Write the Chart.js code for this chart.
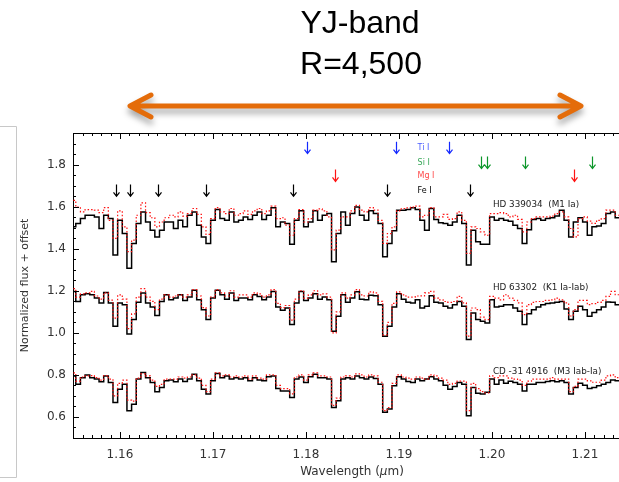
<!DOCTYPE html>
<html>
<head>
<meta charset="utf-8">
<script src="https://cdn.jsdelivr.net/npm/chart.js@4.4.0/dist/chart.umd.min.js"></script>
<style>
  html, body { margin: 0; padding: 0; background: #fff; }
</style>
</head>
<body>
<canvas id="spec" width="619" height="482"></canvas>
<script>
// wavelength grid of the spectra (micron)
const wave = [
  1.1550,1.1555,1.1560,1.1565,1.1570,1.1575,1.1580,1.1585,1.1590,1.1595,
  1.1600,1.1605,1.1610,1.1615,1.1620,1.1625,1.1630,1.1635,1.1640,1.1645,
  1.1650,1.1655,1.1660,1.1665,1.1670,1.1675,1.1680,1.1685,1.1690,1.1695,
  1.1700,1.1705,1.1710,1.1715,1.1720,1.1725,1.1730,1.1735,1.1740,1.1745,
  1.1750,1.1755,1.1760,1.1765,1.1770,1.1775,1.1780,1.1785,1.1790,1.1795,
  1.1800,1.1805,1.1810,1.1815,1.1820,1.1825,1.1830,1.1835,1.1840,1.1845,
  1.1850,1.1855,1.1860,1.1865,1.1870,1.1875,1.1880,1.1885,1.1890,1.1895,
  1.1900,1.1905,1.1910,1.1915,1.1920,1.1925,1.1930,1.1935,1.1940,1.1945,
  1.1950,1.1955,1.1960,1.1965,1.1970,1.1975,1.1980,1.1985,1.1990,1.1995,
  1.2000,1.2005,1.2010,1.2015,1.2020,1.2025,1.2030,1.2035,1.2040,1.2045,
  1.2050,1.2055,1.2060,1.2065,1.2070,1.2075,1.2080,1.2085,1.2090,1.2095,
  1.2100,1.2105,1.2110,1.2115,1.2120,1.2125,1.2130,1.2135,1.2140
];

// HD 339034 (M1 Ia), offset spectrum on top
const topBlack = [
  1.504,1.52,1.543,1.559,1.559,1.551,1.496,1.559,1.543,1.370,
  1.535,1.472,1.307,1.425,1.52,1.575,1.527,1.488,1.456,1.488,
  1.527,1.527,1.496,1.535,1.504,1.559,1.575,1.512,1.456,1.425,
  1.535,1.586,1.543,1.535,1.575,1.527,1.535,1.551,1.539,1.559,
  1.575,1.539,1.559,1.595,1.504,1.527,1.52,1.421,1.535,1.58,
  1.504,1.527,1.58,1.535,1.559,1.567,1.338,1.472,1.575,1.512,
  1.567,1.598,1.559,1.535,1.58,1.567,1.52,1.362,1.425,1.485,
  1.583,1.583,1.586,1.595,1.586,1.535,1.488,1.591,1.539,1.523,
  1.52,1.512,1.527,1.559,1.52,1.323,1.488,1.433,1.421,1.421,
  1.551,1.535,1.543,1.535,1.531,1.512,1.496,1.425,1.49,1.539,
  1.543,1.535,1.543,1.547,1.555,1.583,1.535,1.456,1.527,1.547,
  1.527,1.464,1.504,1.508,1.52,1.567,1.575,1.547,1.543
];
const topRed = [
  1.63,1.598,1.575,1.586,1.586,1.583,1.571,1.595,1.535,1.449,
  1.58,1.504,1.386,1.441,1.559,1.618,1.571,1.547,1.504,1.527,
  1.547,1.559,1.551,1.575,1.555,1.567,1.591,1.563,1.504,1.468,
  1.543,1.595,1.575,1.567,1.591,1.559,1.567,1.58,1.563,1.58,
  1.591,1.567,1.58,1.602,1.543,1.547,1.512,1.464,1.543,1.586,
  1.527,1.543,1.583,1.589,1.58,1.551,1.394,1.488,1.551,1.551,
  1.58,1.606,1.583,1.575,1.595,1.583,1.535,1.425,1.472,1.504,
  1.58,1.591,1.594,1.598,1.602,1.551,1.559,1.595,1.551,1.551,
  1.563,1.539,1.543,1.575,1.535,1.378,1.504,1.496,1.48,1.464,
  1.567,1.567,1.571,1.567,1.551,1.559,1.539,1.48,1.527,1.543,
  1.551,1.551,1.551,1.555,1.567,1.575,1.551,1.496,1.456,1.543,
  1.551,1.531,1.52,1.535,1.543,1.583,1.583,1.559,1.551
];

// HD 63302 (K1 Ia-Iab)
const midBlack = [
  1.197,1.149,1.181,1.186,1.181,1.165,1.142,1.192,1.142,1.031,
  1.142,1.134,0.995,1.063,1.145,1.189,1.142,1.123,1.082,1.149,
  1.181,1.157,1.165,1.181,1.154,1.17,1.202,1.157,1.11,1.063,
  1.165,1.202,1.181,1.16,1.189,1.154,1.165,1.165,1.157,1.181,
  1.173,1.157,1.17,1.197,1.123,1.107,1.118,1.039,1.142,1.197,
  1.154,1.165,1.186,1.16,1.17,1.157,1.008,1.079,1.181,1.145,
  1.165,1.195,1.16,1.157,1.179,1.176,1.134,0.984,1.031,1.123,
  1.186,1.16,1.145,1.142,1.157,1.118,1.126,1.176,1.145,1.142,
  1.126,1.118,1.134,1.149,1.126,0.968,1.094,1.063,1.055,1.047,
  1.157,1.123,1.126,1.134,1.134,1.118,1.102,1.039,1.091,1.11,
  1.123,1.134,1.139,1.142,1.145,1.149,1.113,1.063,1.102,1.126,
  1.11,1.079,1.097,1.11,1.123,1.146,1.145,1.134,1.129
];
const midRed = [
  1.21,1.17,1.185,1.19,1.197,1.175,1.16,1.19,1.155,1.07,
  1.18,1.16,1.02,1.09,1.17,1.21,1.17,1.15,1.11,1.16,
  1.18,1.17,1.175,1.18,1.17,1.18,1.205,1.175,1.12,1.08,
  1.17,1.205,1.19,1.175,1.2,1.17,1.18,1.18,1.17,1.19,
  1.185,1.17,1.18,1.205,1.14,1.12,1.13,1.06,1.16,1.2,
  1.165,1.18,1.2,1.18,1.185,1.17,1.0,1.1,1.19,1.165,
  1.18,1.205,1.18,1.175,1.195,1.19,1.15,0.99,1.05,1.14,
  1.195,1.18,1.17,1.17,1.175,1.176,1.19,1.197,1.165,1.157,
  1.149,1.145,1.149,1.173,1.142,0.984,1.118,1.11,1.075,1.063,
  1.173,1.165,1.157,1.181,1.165,1.154,1.142,1.087,1.134,1.145,
  1.149,1.149,1.154,1.157,1.165,1.157,1.142,1.08,1.11,1.154,
  1.154,1.134,1.139,1.145,1.154,1.173,1.197,1.181,1.173
];

// CD -31 4916 (M3 Iab-Ia)
const lowBlack = [
  0.795,0.756,0.787,0.799,0.787,0.78,0.767,0.795,0.764,0.669,
  0.732,0.756,0.63,0.661,0.78,0.811,0.787,0.764,0.72,0.74,
  0.772,0.776,0.767,0.78,0.769,0.78,0.803,0.772,0.732,0.709,
  0.772,0.807,0.787,0.795,0.78,0.786,0.78,0.786,0.772,0.787,
  0.776,0.772,0.791,0.795,0.735,0.724,0.724,0.693,0.78,0.79,
  0.764,0.791,0.803,0.787,0.787,0.78,0.645,0.677,0.78,0.786,
  0.78,0.795,0.787,0.78,0.79,0.783,0.756,0.622,0.638,0.748,
  0.791,0.78,0.769,0.764,0.78,0.772,0.78,0.791,0.78,0.772,
  0.751,0.732,0.745,0.764,0.756,0.606,0.74,0.713,0.709,0.717,
  0.78,0.756,0.776,0.76,0.77,0.764,0.756,0.724,0.756,0.756,
  0.764,0.764,0.769,0.772,0.767,0.772,0.764,0.709,0.74,0.76,
  0.751,0.735,0.74,0.748,0.756,0.764,0.776,0.772,0.772
];
const lowRed = [
  0.81,0.77,0.79,0.795,0.797,0.787,0.775,0.797,0.78,0.7,
  0.76,0.775,0.68,0.675,0.785,0.805,0.795,0.775,0.745,0.755,
  0.78,0.78,0.78,0.79,0.785,0.79,0.8,0.785,0.75,0.72,
  0.78,0.81,0.795,0.8,0.79,0.795,0.79,0.795,0.78,0.795,
  0.785,0.78,0.8,0.8,0.75,0.735,0.735,0.71,0.79,0.8,
  0.775,0.8,0.81,0.795,0.795,0.79,0.655,0.69,0.79,0.795,
  0.79,0.805,0.8,0.79,0.8,0.795,0.765,0.63,0.645,0.76,
  0.8,0.79,0.785,0.78,0.79,0.785,0.78,0.8,0.795,0.785,
  0.775,0.755,0.76,0.77,0.77,0.63,0.76,0.735,0.72,0.715,
  0.795,0.787,0.795,0.795,0.785,0.78,0.775,0.75,0.77,0.78,
  0.78,0.78,0.78,0.787,0.78,0.78,0.78,0.72,0.745,0.78,
  0.78,0.772,0.765,0.765,0.775,0.795,0.8,0.787,0.785
];

const xTicks = [1.16, 1.17, 1.18, 1.19, 1.20, 1.21];
const yTicks = [0.6, 0.8, 1.0, 1.2, 1.4, 1.6, 1.8];

// line identifications (arrow wavelengths)
const tiLines = [1.1801, 1.1897, 1.1954];
const siLines = [1.1988, 1.1995, 1.2036, 1.2108];
const mgLines = [1.1831, 1.2088];
const feLines = [1.1596, 1.1611, 1.1641, 1.1693, 1.1786, 1.1887, 1.1976];
const markerNames = ['Ti I', 'Si I', 'Mg I', 'Fe I'];
const markerTop = [1.908, 1.838, 1.776, 1.705];
const markerTip = [1.852, 1.781, 1.720, 1.649];

const starNames = ['HD 339034  (M1 Ia)', 'HD 63302  (K1 Ia-Iab)', 'CD -31 4916  (M3 Iab-Ia)'];
const starNameY = [1.611, 1.214, 0.813];

function pts(vals) {
  return vals.map((v, i) => ({ x: wave[i], y: v }));
}
function blackLine(vals) {
  return { data: pts(vals), borderColor: '#000', borderWidth: 1.5, stepped: 'middle', pointRadius: 0, order: 2 };
}
function redLine(vals) {
  return { data: pts(vals), borderColor: '#ff1010', borderWidth: 1.2, borderDash: [1.5, 2], stepped: 'middle', pointRadius: 0, order: 1 };
}

const decor = {
  id: 'decor',
  beforeDraw(chart) {
    const ctx = chart.ctx;
    ctx.save();
    ctx.fillStyle = '#fff';
    ctx.fillRect(0, 0, chart.width, chart.height);
    // slide frame at the left
    ctx.strokeStyle = '#c8c8c8';
    ctx.lineWidth = 1;
    ctx.beginPath();
    ctx.moveTo(0, 126.5); ctx.lineTo(16.5, 126.5); ctx.lineTo(16.5, 477.5); ctx.lineTo(0, 477.5);
    ctx.stroke();
    // band title
    ctx.fillStyle = '#000';
    ctx.font = '32px "Liberation Sans", Arial, sans-serif';
    ctx.textAlign = 'center';
    ctx.fillText('YJ-band', 360, 33);
    ctx.fillText('R=4,500', 361, 74);
    // orange double arrow
    ctx.shadowColor = 'rgba(0,0,0,0.35)';
    ctx.shadowBlur = 6;
    ctx.shadowOffsetY = 5;
    ctx.strokeStyle = '#e46c0a';
    ctx.lineWidth = 5;
    ctx.lineCap = 'round';
    ctx.lineJoin = 'round';
    ctx.beginPath();
    ctx.moveTo(132, 106); ctx.lineTo(579, 106);
    ctx.moveTo(151, 95); ctx.lineTo(130, 106); ctx.lineTo(151, 117);
    ctx.moveTo(560, 95); ctx.lineTo(581, 106); ctx.lineTo(560, 117);
    ctx.stroke();
    ctx.restore();
  },
  afterDraw(chart) {
    const ctx = chart.ctx;
    const a = chart.chartArea;
    const xs = chart.scales.x, ys = chart.scales.y;
    ctx.save();
    // top frame line + inward ticks
    ctx.strokeStyle = '#000';
    ctx.lineWidth = 1;
    ctx.beginPath();
    ctx.moveTo(a.left, a.top + 0.5); ctx.lineTo(a.right, a.top + 0.5);
    for (let k = 10; k <= 39; k++) {
      const v = k * 0.05;
      const py = Math.round(ys.getPixelForValue(v)) + 0.5;
      const len = (k % 4 === 0) ? 6 : 3;
      ctx.moveTo(a.left, py); ctx.lineTo(a.left + len, py);
    }
    for (let k = 1155; k <= 1213; k++) {
      const px = Math.round(xs.getPixelForValue(k / 1000)) + 0.5;
      const len = (k % 10 === 0) ? 6 : 3;
      ctx.moveTo(px, a.top); ctx.lineTo(px, a.top + len);
      ctx.moveTo(px, a.bottom); ctx.lineTo(px, a.bottom - len);
    }
    ctx.stroke();

    // line identification arrows
    const groups = [tiLines, siLines, mgLines, feLines];
    const arrowColors = ['#1428ff', '#0c962a', '#ff1414', '#000'];
    const labelColors = ['#4a5cff', '#3aa85a', '#ff4a4a', '#000'];
    ctx.lineWidth = 1.2;
    groups.forEach((g, j) => {
      const yt = ys.getPixelForValue(markerTop[j]);
      const yb = ys.getPixelForValue(markerTip[j]);
      ctx.strokeStyle = arrowColors[j];
      ctx.beginPath();
      g.forEach(w => {
        const px = Math.round(xs.getPixelForValue(w)) + 0.5;
        ctx.moveTo(px, yt); ctx.lineTo(px, yb);
        ctx.moveTo(px - 3, yb - 4); ctx.lineTo(px, yb); ctx.lineTo(px + 3, yb - 4);
      });
      ctx.stroke();
      ctx.fillStyle = labelColors[j];
      ctx.font = '8px "DejaVu Sans", sans-serif';
      ctx.textAlign = 'left';
      ctx.textBaseline = 'middle';
      ctx.fillText(markerNames[j], xs.getPixelForValue(1.1920), (yt + yb) / 2);
    });

    // star names
    ctx.fillStyle = '#222';
    ctx.font = '8.8px "DejaVu Sans", sans-serif';
    ctx.textAlign = 'left';
    ctx.textBaseline = 'middle';
    starNames.forEach((s, j) => {
      ctx.fillText(s, xs.getPixelForValue(1.2001), ys.getPixelForValue(starNameY[j]));
    });

    // axis titles
    ctx.fillStyle = '#333';
    ctx.textAlign = 'center';
    ctx.textBaseline = 'middle';
    ctx.save();
    ctx.translate(25, (a.top + a.bottom) / 2);
    ctx.rotate(-Math.PI / 2);
    ctx.font = '11px "DejaVu Sans", sans-serif';
    ctx.fillText('Normalized flux + offset', 0, 0);
    ctx.restore();

    const t1 = 'Wavelength (', t2 = '\u03bc', t3 = 'm)';
    const fN = '12px "DejaVu Sans", sans-serif', fI = 'italic 12px "DejaVu Sans", sans-serif';
    ctx.textAlign = 'left';
    ctx.font = fN; const w1 = ctx.measureText(t1).width;
    ctx.font = fI; const w2 = ctx.measureText(t2).width;
    ctx.font = fN; const w3 = ctx.measureText(t3).width;
    let x0 = 352 - (w1 + w2 + w3) / 2;
    ctx.font = fN; ctx.fillText(t1, x0, 472);
    ctx.font = fI; ctx.fillText(t2, x0 + w1, 472);
    ctx.font = fN; ctx.fillText(t3, x0 + w1 + w2, 472);
    ctx.restore();
  }
};

new Chart(document.getElementById('spec'), {
  type: 'line',
  data: {
    datasets: [
      blackLine(topBlack), redLine(topRed),
      blackLine(midBlack), redLine(midRed),
      blackLine(lowBlack), redLine(lowRed)
    ]
  },
  options: {
    responsive: false,
    animation: false,
    devicePixelRatio: 1,
    layout: { padding: { top: 133, left: 0, right: 0, bottom: 0 } },
    plugins: { legend: { display: false }, tooltip: { enabled: false } },
    scales: {
      x: {
        type: 'linear',
        min: 1.15495,
        max: 1.21366,
        afterBuildTicks: s => { s.ticks = xTicks.map(v => ({ value: v })); },
        afterFit: s => { s.height = 44; },
        ticks: {
          callback: v => v.toFixed(2),
          font: { family: 'DejaVu Sans', size: 12 },
          color: '#333',
          padding: 10,
          maxRotation: 0,
          autoSkip: false
        },
        grid: { display: false, drawTicks: false },
        border: { display: true, color: '#000', width: 1 }
      },
      y: {
        min: 0.5,
        max: 1.95,
        afterBuildTicks: s => { s.ticks = yTicks.map(v => ({ value: v })); },
        afterFit: s => { s.width = 73; },
        ticks: {
          callback: v => v.toFixed(1),
          font: { family: 'DejaVu Sans', size: 12 },
          color: '#333',
          padding: 7
        },
        grid: { display: false, drawTicks: false },
        border: { display: true, color: '#000', width: 1 }
      }
    }
  },
  plugins: [decor]
});
</script>
</body>
</html>
